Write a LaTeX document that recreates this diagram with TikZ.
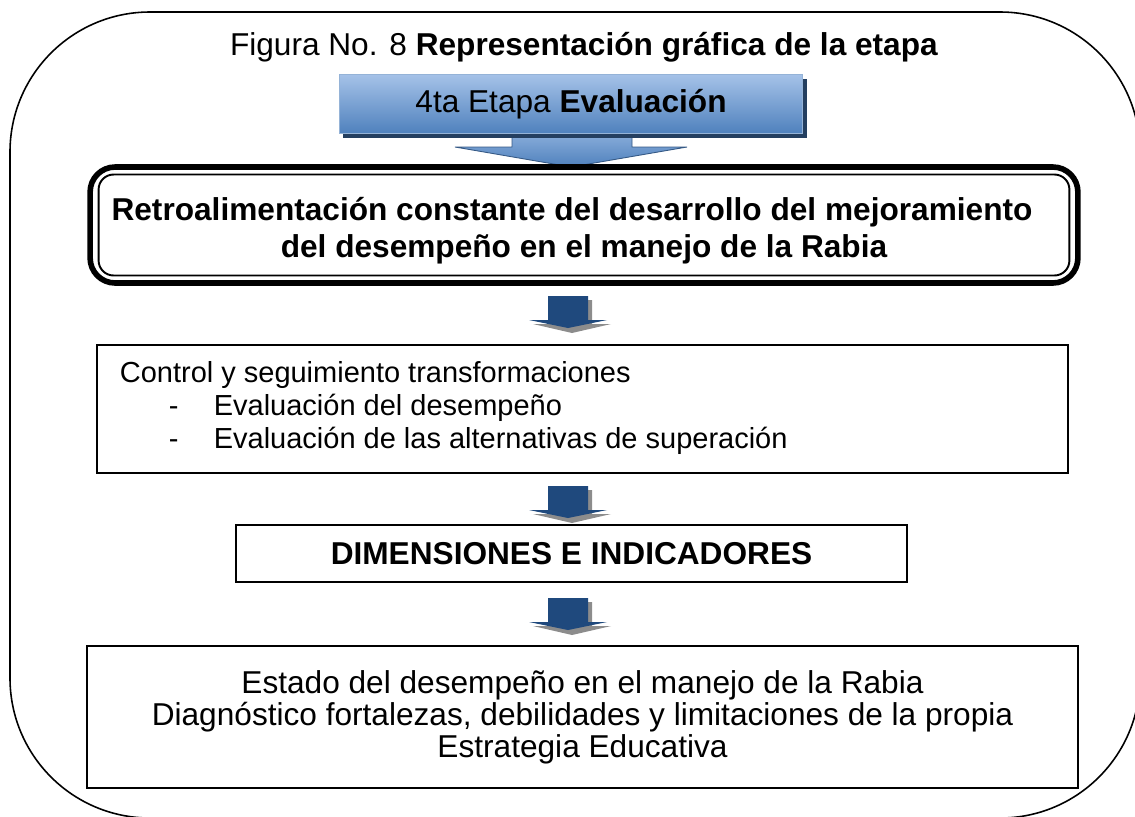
\documentclass[tikz,border=0pt]{standalone}
\usepackage{fontspec}
\setmainfont{Liberation Sans}
\usetikzlibrary{shadows}

\definecolor{azulclaro}{HTML}{A5C2E8}
\definecolor{azulmedio}{HTML}{4F81BD}
\definecolor{azulsombra}{HTML}{243F60}
\definecolor{azulflecha}{HTML}{1F497D}
\definecolor{grissombra}{HTML}{8C8C8C}

\begin{document}
\begin{tikzpicture}[x=0.02cm,y=-0.02cm,line width=1pt,
  caja/.style={draw,rectangle,inner sep=0pt},
  texto/.style={font=\fontsize{18}{18.2}\selectfont,align=center},
  negrita/.style={font=\fontsize{18}{21}\selectfont\bfseries,align=center},
  lista/.style={font=\fontsize{16.5}{19}\selectfont,anchor=base west,inner sep=0pt},
  flecha/.pic={
    \fill[grissombra] (-16,4) -- (24,4) -- (24,28) -- (43,28) -- (4,37) -- (-35,28) -- (-16,28) -- cycle;
    \fill[azulflecha] (-20,0) -- (20,0) -- (20,24) -- (39,24) -- (0,32) -- (-39,24) -- (-20,24) -- cycle;
  }]
  \useasboundingbox (0,0) rectangle (1135,816);
  % marco
  \draw[line width=0.9pt,rounded corners=2.8cm] (10,12) rectangle (1140,818);
  \node[font=\fontsize{18}{21}\selectfont] (titulo) at (584,47){Figura No. 8 \textbf{Representación gráfica de la etapa}};
  % etapa
  \shade[top color=azulclaro!70!azulmedio,bottom color=azulmedio,draw=azulsombra!60!azulmedio,line width=0.5pt] (512,132) -- (632,132) -- (632,147) -- (687,147) -- (571,167) -- (455,147) -- (512,147) -- cycle;
  \node[caja,draw=azulmedio!60!white,line width=0.6pt,top color=azulclaro,bottom color=azulmedio,
    general shadow={fill=azulsombra,shadow xshift=2.5pt,shadow yshift=-2.5pt},
    minimum width=9.28cm,minimum height=1.18cm,texto] (etapa) at (571,104){4ta Etapa \textbf{Evaluación}};
  % retroalimentacion
  \node[draw,line width=3.2pt,rounded corners=0.5cm,minimum width=19.76cm,minimum height=2.32cm] (retro) at (584,225){};
  \node[draw,line width=1.1pt,rounded corners=0.3cm,minimum width=19.42cm,minimum height=2.02cm] (retroint) at (retro){};
  \node[negrita] (retrotxt) at (584,231){Retroalimentación constante del desarrollo del mejoramiento\hspace*{0.48cm}\\del desempeño en el manejo de la Rabia};
  \pic (f1) at (568,296){flecha};
  % control
  \node[caja,minimum width=19.42cm,minimum height=2.56cm] (control) at (582.5,409){};
  \node[lista] (control1) at (119,382){Control y seguimiento transformaciones};
  \node[lista] (control2) at (168,415){\makebox[0.9cm][l]{-}Evaluación del desempeño};
  \node[lista] (control3) at (168,448){\makebox[0.9cm][l]{-}Evaluación de las alternativas de superación};
  \pic (f2) at (568,486){flecha};
  % dimensiones
  \node[caja,minimum width=13.42cm,minimum height=1.14cm,negrita] (dimensiones) at (571.5,553.5){DIMENSIONES E INDICADORES};
  \pic (f3) at (568,598){flecha};
  % estado
  \node[caja,minimum width=19.82cm,minimum height=2.84cm,texto] (estado) at (582.5,717){Estado del desempeño en el manejo de la Rabia\\Diagnóstico fortalezas, debilidades y limitaciones de la propia\\Estrategia Educativa};
\end{tikzpicture}
\end{document}
